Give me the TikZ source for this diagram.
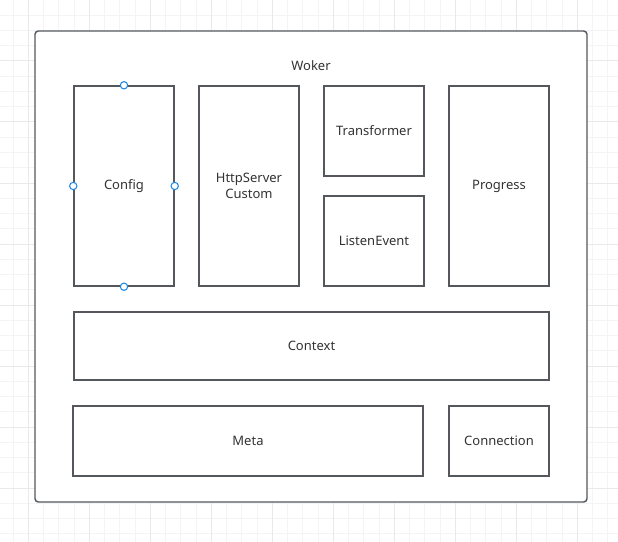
\documentclass[tikz,border=0pt]{standalone}
\usepackage{fontspec}
\setmainfont{Noto Sans}
\definecolor{linegray}{HTML}{54585D}
\definecolor{textgray}{HTML}{333333}
\definecolor{handleblue}{HTML}{1E88E5}
\definecolor{gridminor}{HTML}{F4F4F4}
\definecolor{gridmajor}{HTML}{E9E9E9}
\begin{document}
\begin{tikzpicture}[x=0.75pt,y=-0.75pt,
  box/.style={draw=linegray, line width=1.1pt, text=textgray, align=center, inner sep=0pt,
    font=\fontsize{9.75}{12}\selectfont},
  handle/.style={draw=handleblue, fill=white, circle, line width=0.8pt, inner sep=0pt, minimum size=5.5pt}]
	\useasboundingbox (0,0) rectangle (618,542);
	% background grid
	\foreach \i in {0,...,39} \draw[gridminor, line width=0.75pt] ({13+15.25*\i},0) -- ++(0,542);
	\foreach \i in {1,...,35} \draw[gridminor, line width=0.75pt] (0,{15.25*\i}) -- ++(618,0);
	\foreach \i in {0,...,9} \draw[gridmajor, line width=0.75pt] ({28.25+61*\i},0) -- ++(0,542);
	\foreach \i in {1,...,8} \draw[gridmajor, line width=0.75pt] (0,{61*\i}) -- ++(618,0);
	% outer frame
	\node[box, fill=white, rounded corners=2.5pt, minimum width=414pt, minimum height=353.25pt] (woker) at (311,266.5) {};
	\node[box, draw=none] (wokertitle) at (311,66) {Woker};
	% inner blocks
	\node[box, minimum width=75pt, minimum height=150pt] (config) at (124,186) {Config};
	\node[box, minimum width=75pt, minimum height=150pt] (httpserver) at (249,186) {HttpServer\\Custom};
	\node[box, minimum width=75pt, minimum height=67.5pt] (transformer) at (374,131) {Transformer};
	\node[box, minimum width=75pt, minimum height=67.5pt] (listenevent) at (374,241) {ListenEvent};
	\node[box, minimum width=75pt, minimum height=150pt] (progress) at (499,186) {Progress};
	\node[box, minimum width=356.25pt, minimum height=51pt] (context) at (311.5,346) {Context};
	\node[box, minimum width=262.5pt, minimum height=52.5pt] (meta) at (248,441) {Meta};
	\node[box, minimum width=75pt, minimum height=52.5pt] (connection) at (499,441) {Connection};
	% selection handles
	\foreach \a in {north,south,east,west} \node[handle] (config-\a) at (config.\a) {};
\end{tikzpicture}
\end{document}
